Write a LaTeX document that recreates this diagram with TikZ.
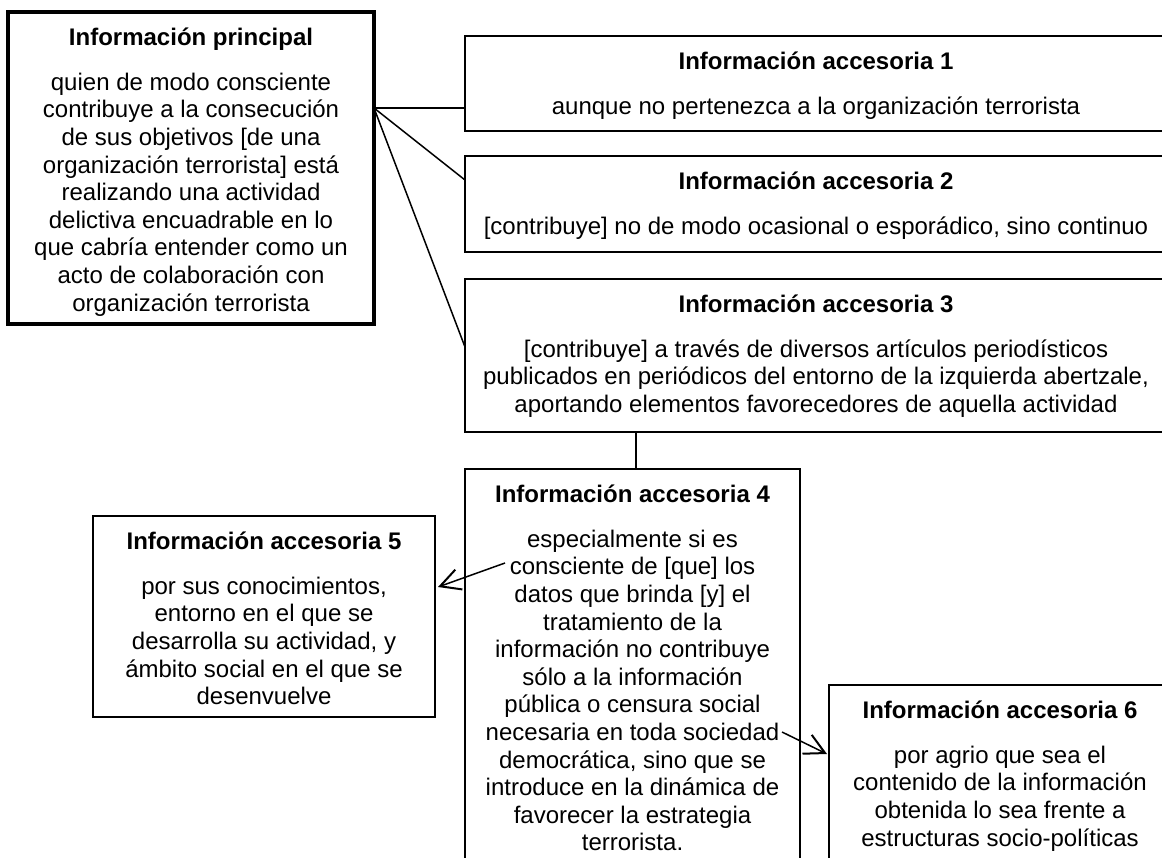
\documentclass[tikz,border=0pt]{standalone}
\usepackage{fontspec}
\setmainfont{Liberation Sans}
\usetikzlibrary{calc,arrows.meta}
\newcommand\fsz{\fontsize{24pt}{27.6pt}\selectfont}
\newcommand\ttl[1]{\rule{0pt}{20pt}\textbf{#1}\\[17.4pt]}
\tikzset{
  box/.style={draw, line width=2pt, rectangle, inner sep=0pt, outer sep=0pt, anchor=north west},
  mainbox/.style={box, line width=3.2pt},
  txt/.style={anchor=north, inner sep=0pt, align=center, font=\fsz},
  conn/.style={line width=1.5pt},
  arr/.style={conn, -{Straight Barb[length=20pt,width=21pt,line width=2pt]}}
}
\begin{document}
\begin{tikzpicture}[x=1pt,y=-1pt]
\useasboundingbox (0,0) rectangle (1162,857);
\clip (0,0) rectangle (1162,857);
\fill[white] (0,0) rectangle (1162,857);
% boxes
\node[mainbox, minimum width=366pt, minimum height=312pt] (p) at (8,12) {};
\node[box, minimum width=702pt, minimum height=95pt] (a1) at (465,36) {};
\node[box, minimum width=702pt, minimum height=96pt] (a2) at (465,156) {};
\node[box, minimum width=702pt, minimum height=153pt] (a3) at (465,279) {};
\node[box, minimum width=335pt, minimum height=420pt] (a4) at (465,469) {};
\node[box, minimum width=342pt, minimum height=201pt] (a5) at (93,516) {};
\node[box, minimum width=342pt, minimum height=200pt] (a6) at (829,685) {};
% texts
\node[txt] (tp) at ($(p.north)+(0,13)$) {\ttl{Información principal}
quien de modo consciente\\
contribuye a la consecución\\
de sus objetivos [de una\\
organización terrorista] está\\
realizando una actividad\\
delictiva encuadrable en lo\\
que cabría entender como un\\
acto de colaboración con\\
organización terrorista};
\node[txt] (t1) at ($(a1.north)+(0,13)$) {\ttl{Información accesoria 1}
aunque no pertenezca a la organización terrorista};
\node[txt] (t2) at ($(a2.north)+(0,13)$) {\ttl{Información accesoria 2}
{[}contribuye{]} no de modo ocasional o esporádico, sino continuo};
\node[txt] (t3) at ($(a3.north)+(0,13)$) {\ttl{Información accesoria 3}
{[}contribuye{]} a través de diversos artículos periodísticos\\
publicados en periódicos del entorno de la izquierda abertzale,\\
aportando elementos favorecedores de aquella actividad};
\node[txt] (t4) at ($(a4.north)+(0,13)$) {\ttl{Información accesoria 4}
especialmente si es\\
consciente de [que] los\\
datos que brinda [y] el\\
tratamiento de la\\
información no contribuye\\
sólo a la información\\
pública o censura social\\
necesaria en toda sociedad\\
democrática, sino que se\\
introduce en la dinámica de\\
favorecer la estrategia\\
terrorista.};
\node[txt] (t5) at ($(a5.north)+(0,13)$) {\ttl{Información accesoria 5}
por sus conocimientos,\\
entorno en el que se\\
desarrolla su actividad, y\\
ámbito social en el que se\\
desenvuelve};
\node[txt] (t6) at ($(a6.north)+(0,13)$) {\ttl{Información accesoria 6}
por agrio que sea el\\
contenido de la información\\
obtenida lo sea frente a\\
estructuras socio-políticas};
% connectors
\coordinate (pc) at ($(p.north east)+(0,96)$);
\draw[conn] (pc) -- (a1.west |- pc);
\draw[conn] (pc) -- ($(a2.north west)+(0,24)$);
\draw[conn] (pc) -- ($(a3.north west)+(0,68)$);
\coordinate (c34) at ($(a4.north)+(3.5,0)$);
\draw[conn] (c34) -- (c34 |- a3.south);
\coordinate (s5) at (505,563);
\draw[arr] (s5) -- ($(a5.north east)+(3,71)$);
\coordinate (s6) at (782,732);
\draw[arr] (s6) -- ($(a6.north west)+(-2,69)$);
\end{tikzpicture}
\end{document}
